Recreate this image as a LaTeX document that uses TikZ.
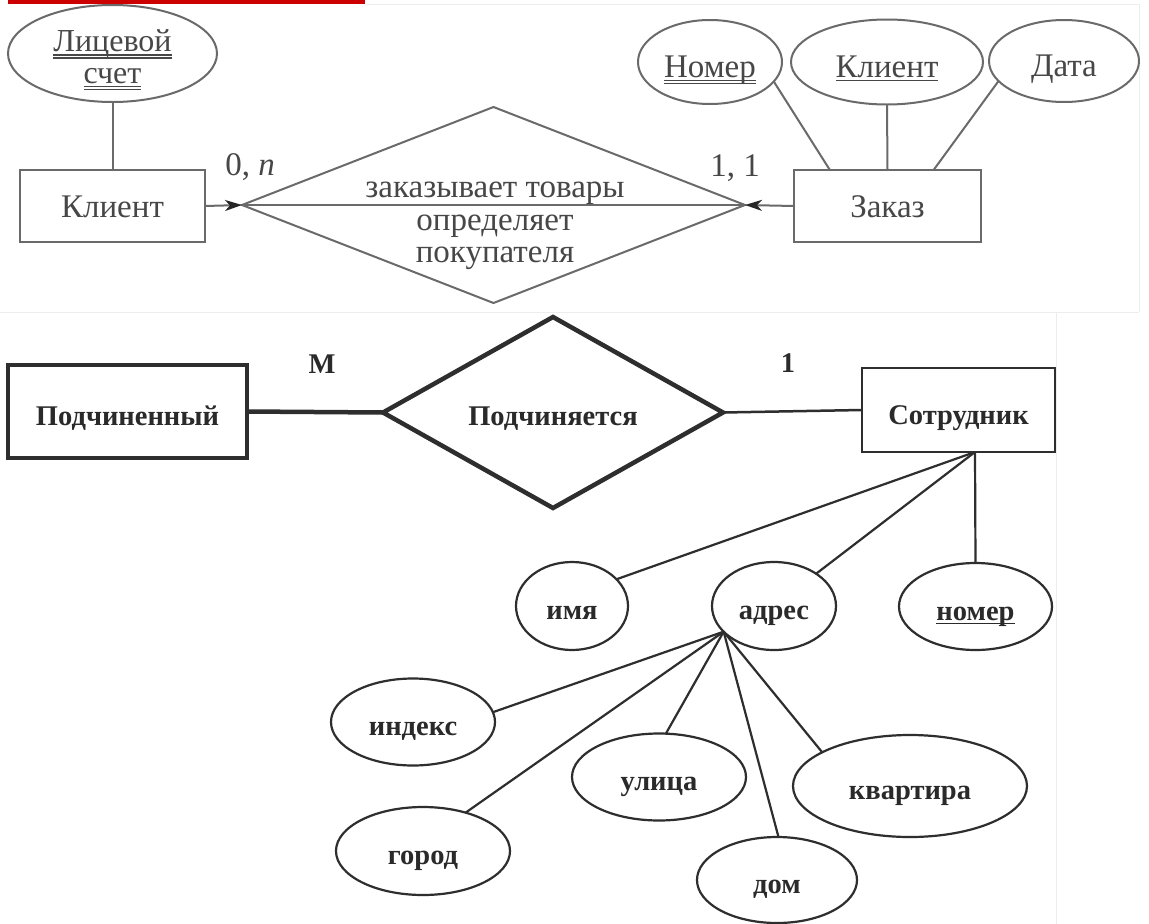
\documentclass[tikz,border=0pt]{standalone}
\usepackage{fontspec}
\setmainfont{Liberation Serif}
\usetikzlibrary{shapes.geometric,arrows.meta}
\definecolor{topline}{HTML}{6A6A6A}
\definecolor{toptext}{HTML}{474747}
\definecolor{botline}{HTML}{2E2E2E}
\definecolor{bottext}{HTML}{2A2A2A}
\definecolor{redbar}{HTML}{CC0000}
\definecolor{faintline}{HTML}{EDEDED}
\newcommand\mydul[1]{\leavevmode\vtop{\hbox{\raisebox{0pt}[\height][0pt]{#1}}\kern2.5pt\hrule height 1.2pt\kern1.8pt\hrule height 1.2pt}}
\newcommand\myul[1]{\leavevmode\vtop{\hbox{\raisebox{0pt}[\height][0pt]{#1}}\kern2.5pt\hrule height 1.4pt}}
\begin{document}
\begin{tikzpicture}[x=1pt,y=-1pt,
  every node/.style={inner sep=0pt,outer sep=0pt},
  tfont/.style={font=\fontsize{33}{32.75}\selectfont,text=toptext},
  bfont/.style={font=\bfseries\fontsize{28.5}{32}\selectfont,text=bottext},
  tent/.style={rectangle,draw=topline,line width=2pt,tfont,text height=22pt,text depth=0pt},
  tattr/.style={ellipse,draw=topline,line width=2pt,tfont,text height=31pt,text depth=0pt},
  tlink/.style={draw=topline,line width=2pt},
  tarrow/.style={tlink,-{Stealth[length=17pt,width=11pt,inset=5pt,color=black!85]}},
  bent/.style={rectangle,draw=botline,line width=2.5pt,bfont,text height=28pt,text depth=0pt},
  battr/.style={ellipse,draw=botline,line width=2.2pt,bfont,text height=27pt,text depth=0pt},
  blink/.style={draw=botline,line width=2.2pt},
  faint/.style={draw=faintline,line width=1pt}]
\useasboundingbox (0,0) rectangle (1149,924);
\fill[white] (0,0) rectangle (1149,924);
% faint paste borders
\draw[faint] (365,4) -- (1139,4) -- (1139,312);
\draw[faint] (0,312) -- (1139,312);
\draw[faint] (1056,312) -- (1056,924);
\fill[redbar] (8,0) rectangle (365,3.5);

% ---------- top diagram ----------
\node[tent,minimum width=185,minimum height=72] (klient) at (112.5,206) {Клиент};
\node[tent,minimum width=187,minimum height=72] (zakaz) at (887.5,206) {Заказ};
\node[diamond,draw=topline,line width=2pt,minimum width=503,minimum height=196,aspect=2.57] (rel1) at (493.5,205) {};
\node[tfont,align=center] (rel1txt) at (495,226) {заказывает товары\\определяет\\покупателя};
\node[tattr,minimum width=209,minimum height=97] (lic) at (112.5,53.5) {};
\node[tfont,font=\fontsize{32}{31.5}\selectfont,align=center] (lictxt) at (112.5,60) {\mydul{Лицевой}\\\mydul{счет}};
\node[tattr,minimum width=144,minimum height=84] (nomer1) at (710,62) {\mydul{Номер}};
\node[tattr,minimum width=192,minimum height=85] (klattr) at (887,62) {\myul{Клиент}};
\node[tattr,minimum width=150,minimum height=82] (data) at (1064,61) {Дата};
\node[tfont,anchor=base] (card1) at (250,175) {0, \textit{n}};
\node[tfont,anchor=base] (card2) at (735,176) {1, 1};

\draw[tlink] (lic.south) -- (klient.north);
\draw[tlink] (nomer1.343) -- (zakaz.148);
\draw[tlink] (klattr.south) -- (zakaz.north);
\draw[tlink] (data.197) -- (zakaz.38);
\draw[tlink] (rel1.west) -- (rel1.east);
\draw[tarrow] (klient.east) -- (rel1.west);
\draw[tarrow] (zakaz.west) -- (rel1.east);

% ---------- bottom diagram ----------
\node[bent,line width=4.5pt,minimum width=239,minimum height=93] (podch) at (127.5,411.5) {Подчиненный};
\node[diamond,draw=botline,line width=4.5pt,bfont,text height=26pt,text depth=0pt,minimum width=340,minimum height=191,aspect=1.78] (rel2) at (553,412.5) {Подчиняется};
\node[bent,minimum width=193,minimum height=84] (sotr) at (958.5,410) {Сотрудник};
\node[bfont,anchor=base] (cardM) at (322,373) {M};
\node[bfont,anchor=base] (cardone) at (788,372) {1};
\draw[blink,line width=4.5pt] (podch.east) -- (rel2.west);
\draw[blink,line width=2.5pt] (rel2.east) -- (sotr.west);

\node[battr,minimum width=112,minimum height=88] (imya) at (572,606) {имя};
\node[battr,minimum width=124,minimum height=88] (adres) at (774,606) {адрес};
\node[battr,minimum width=153,minimum height=87] (nomer2) at (975.5,606.5) {\myul{номер}};
\node[battr,minimum width=164,minimum height=87] (indeks) at (413,722) {индекс};
\node[battr,minimum width=174,minimum height=87] (ulica) at (659,777) {улица};
\node[battr,minimum width=234,minimum height=102] (kvart) at (910,786) {квартира};
\node[battr,minimum width=174,minimum height=88] (gorod) at (423,851) {город};
\node[battr,minimum width=160,minimum height=86] (dom) at (777,880) {дом};

\coordinate (sh) at (975,452);
\draw[blink] (sh) -- (imya.31);
\draw[blink] (sh) -- (adres);
\draw[blink] (sh) -- (nomer2.north);
\coordinate (ah) at (adres.207);
\draw[blink] (ah) -- (indeks.7);
\draw[blink] (ah) -- (gorod.42);
\draw[blink] (ah) -- (ulica.81);
\draw[blink] (ah) -- (dom.88);
\draw[blink] (ah) -- (kvart.159);
\end{tikzpicture}
\end{document}
